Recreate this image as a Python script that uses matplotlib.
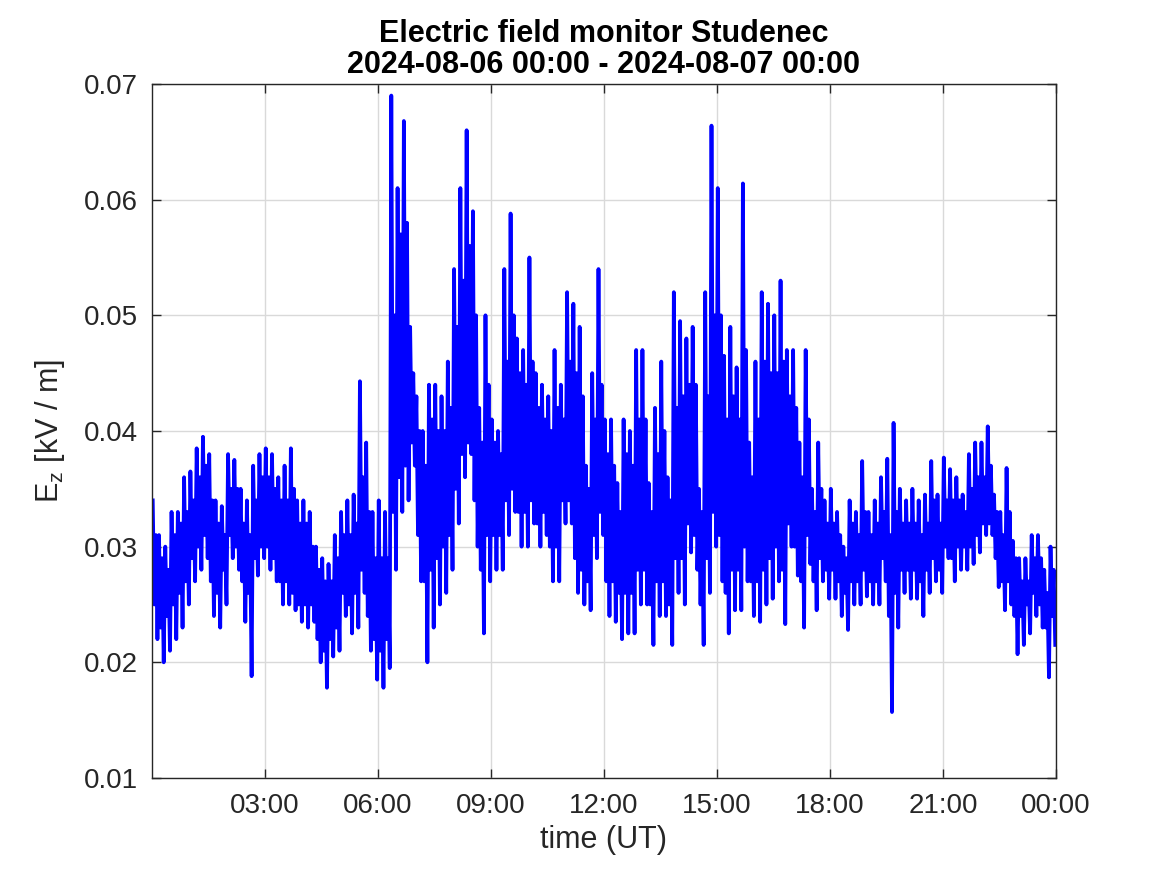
import numpy as np
import matplotlib
matplotlib.use("Agg")
import matplotlib.pyplot as plt

plt.rcParams["font.family"] = ["Liberation Sans", "DejaVu Sans"]
plt.rcParams["mathtext.fontset"] = "custom"
plt.rcParams["mathtext.rm"] = "Liberation Sans"
plt.rcParams["mathtext.it"] = "Liberation Sans"

# E_z [kV/m] read per 10-minute bin, 00:00 -> 24:00 UT
# ez_hi / ez_lo: extreme values; core_hi / core_lo: edges of the dense part
ez_hi = [
    0.034, 0.031, 0.030, 0.033, 0.033, 0.036,        # 00h
    0.0365, 0.0385, 0.0395, 0.038, 0.034, 0.0335,    # 01h
    0.038, 0.0375, 0.035, 0.034, 0.037, 0.038,       # 02h
    0.0385, 0.038, 0.036, 0.037, 0.0385, 0.034,      # 03h
    0.034, 0.033, 0.030, 0.029, 0.0285, 0.031,       # 04h
    0.033, 0.034, 0.0345, 0.0443, 0.039, 0.033,      # 05h
    0.034, 0.033, 0.069, 0.061, 0.0668, 0.049,       # 06h
    0.043, 0.040, 0.044, 0.044, 0.043, 0.046,        # 07h
    0.054, 0.061, 0.066, 0.059, 0.042, 0.050,        # 08h
    0.041, 0.040, 0.054, 0.0588, 0.048, 0.047,       # 09h
    0.055, 0.045, 0.044, 0.043, 0.047, 0.044,        # 10h
    0.052, 0.051, 0.049, 0.037, 0.045, 0.054,        # 11h
    0.041, 0.041, 0.0355, 0.041, 0.040, 0.047,       # 12h
    0.047, 0.0355, 0.042, 0.046, 0.036, 0.052,       # 13h
    0.0495, 0.048, 0.049, 0.035, 0.052, 0.0664,      # 14h
    0.061, 0.0465, 0.049, 0.0455, 0.0614, 0.039,     # 15h
    0.046, 0.052, 0.051, 0.050, 0.053, 0.047,        # 16h
    0.047, 0.039, 0.047, 0.035, 0.039, 0.034,        # 17h
    0.035, 0.033, 0.030, 0.034, 0.033, 0.0374,       # 18h
    0.033, 0.034, 0.036, 0.0376, 0.0407, 0.035,      # 19h
    0.034, 0.035, 0.034, 0.0345, 0.0374, 0.0345,     # 20h
    0.0377, 0.0367, 0.036, 0.0345, 0.038, 0.039,     # 21h
    0.039, 0.0404, 0.0345, 0.033, 0.0368, 0.0305,    # 22h
    0.029, 0.029, 0.031, 0.031, 0.028, 0.030,        # 23h
]
core_hi = [
    0.031, 0.029, 0.028, 0.031, 0.032, 0.033,        # 00h
    0.034, 0.036, 0.037, 0.034, 0.032, 0.031,        # 01h
    0.035, 0.035, 0.032, 0.031, 0.034, 0.036,        # 02h
    0.036, 0.035, 0.034, 0.034, 0.035, 0.032,        # 03h
    0.032, 0.030, 0.028, 0.027, 0.027, 0.029,        # 04h
    0.031, 0.031, 0.032, 0.036, 0.033, 0.029,        # 05h
    0.029, 0.029, 0.050, 0.057, 0.058, 0.045,        # 06h
    0.040, 0.037, 0.041, 0.040, 0.040, 0.042,        # 07h
    0.049, 0.053, 0.056, 0.050, 0.039, 0.044,        # 08h
    0.039, 0.038, 0.046, 0.050, 0.045, 0.044,        # 09h
    0.046, 0.042, 0.041, 0.040, 0.042, 0.041,        # 10h
    0.046, 0.045, 0.043, 0.035, 0.041, 0.044,        # 11h
    0.038, 0.037, 0.033, 0.038, 0.037, 0.041,        # 12h
    0.041, 0.033, 0.038, 0.040, 0.034, 0.042,        # 13h
    0.043, 0.044, 0.044, 0.033, 0.043, 0.050,        # 14h
    0.050, 0.041, 0.043, 0.041, 0.047, 0.036,        # 15h
    0.041, 0.046, 0.045, 0.045, 0.046, 0.043,        # 16h
    0.042, 0.036, 0.041, 0.033, 0.035, 0.032,        # 17h
    0.032, 0.031, 0.029, 0.032, 0.031, 0.033,        # 18h
    0.031, 0.032, 0.033, 0.031, 0.033, 0.032,        # 19h
    0.032, 0.032, 0.031, 0.032, 0.034, 0.032,        # 20h
    0.034, 0.034, 0.034, 0.033, 0.035, 0.036,        # 21h
    0.036, 0.037, 0.033, 0.031, 0.033, 0.029,        # 22h
    0.027, 0.027, 0.029, 0.029, 0.026, 0.028,        # 23h
]
core_lo = [
    0.025, 0.023, 0.024, 0.025, 0.026, 0.027,        # 00h
    0.029, 0.030, 0.031, 0.027, 0.026, 0.028,        # 01h
    0.031, 0.030, 0.027, 0.026, 0.029, 0.030,        # 02h
    0.030, 0.029, 0.027, 0.027, 0.026, 0.025,        # 03h
    0.025, 0.025, 0.022, 0.021, 0.022, 0.023,        # 04h
    0.026, 0.025, 0.026, 0.028, 0.024, 0.022,        # 05h
    0.021, 0.022, 0.033, 0.036, 0.037, 0.039,        # 06h
    0.031, 0.027, 0.028, 0.029, 0.030, 0.031,        # 07h
    0.035, 0.038, 0.039, 0.034, 0.028, 0.031,        # 08h
    0.031, 0.031, 0.034, 0.035, 0.033, 0.033,        # 09h
    0.034, 0.032, 0.033, 0.030, 0.030, 0.034,        # 10h
    0.034, 0.029, 0.028, 0.027, 0.031, 0.033,        # 11h
    0.027, 0.027, 0.026, 0.026, 0.026, 0.028,        # 12h
    0.028, 0.025, 0.027, 0.027, 0.025, 0.029,        # 13h
    0.029, 0.032, 0.031, 0.025, 0.029, 0.033,        # 14h
    0.031, 0.026, 0.028, 0.028, 0.030, 0.027,        # 15h
    0.027, 0.028, 0.029, 0.030, 0.028, 0.032,        # 16h
    0.030, 0.027, 0.031, 0.027, 0.029, 0.028,        # 17h
    0.028, 0.027, 0.026, 0.027, 0.027, 0.028,        # 18h
    0.027, 0.027, 0.029, 0.024, 0.026, 0.028,        # 19h
    0.028, 0.028, 0.027, 0.028, 0.029, 0.028,        # 20h
    0.030, 0.029, 0.030, 0.030, 0.030, 0.031,        # 21h
    0.032, 0.032, 0.029, 0.027, 0.027, 0.024,        # 22h
    0.024, 0.025, 0.026, 0.025, 0.023, 0.024,        # 23h
]
ez_lo = [
    0.022, 0.020, 0.021, 0.022, 0.023, 0.025,        # 00h
    0.027, 0.028, 0.029, 0.024, 0.023, 0.025,        # 01h
    0.029, 0.028, 0.0235, 0.0188, 0.0275, 0.029,     # 02h
    0.028, 0.027, 0.025, 0.025, 0.0245, 0.0235,      # 03h
    0.023, 0.0235, 0.020, 0.0178, 0.0205, 0.021,     # 04h
    0.024, 0.0225, 0.023, 0.026, 0.021, 0.0185,      # 05h
    0.0178, 0.0195, 0.028, 0.033, 0.034, 0.037,      # 06h
    0.027, 0.020, 0.023, 0.025, 0.026, 0.028,        # 07h
    0.032, 0.036, 0.038, 0.030, 0.0225, 0.027,       # 08h
    0.028, 0.028, 0.031, 0.033, 0.030, 0.030,        # 09h
    0.032, 0.030, 0.031, 0.027, 0.027, 0.032,        # 10h
    0.032, 0.026, 0.025, 0.0245, 0.029, 0.031,       # 11h
    0.024, 0.0235, 0.022, 0.0225, 0.0225, 0.025,     # 12h
    0.025, 0.0215, 0.024, 0.024, 0.0215, 0.026,      # 13h
    0.025, 0.0295, 0.028, 0.0215, 0.026, 0.030,      # 14h
    0.027, 0.0225, 0.0245, 0.0245, 0.027, 0.024,     # 15h
    0.0235, 0.025, 0.0255, 0.027, 0.0233, 0.030,     # 16h
    0.0275, 0.023, 0.0285, 0.0245, 0.027, 0.0255,    # 17h
    0.0255, 0.024, 0.0228, 0.025, 0.025, 0.0257,     # 18h
    0.025, 0.025, 0.027, 0.0157, 0.023, 0.026,       # 19h
    0.0255, 0.0255, 0.024, 0.026, 0.027, 0.026,      # 20h
    0.029, 0.027, 0.028, 0.028, 0.0285, 0.0295,      # 21h
    0.031, 0.031, 0.0265, 0.0245, 0.025, 0.0207,     # 22h
    0.0215, 0.0225, 0.024, 0.023, 0.0187, 0.0215,    # 23h
]
tick_hours = [3, 6, 9, 12, 15, 18, 21, 24]
tick_labels = ["03:00", "06:00", "09:00", "12:00", "15:00", "18:00", "21:00", "00:00"]

# each 10-min bin: max, core low, core high, min  -> dense zig-zag like the raw record
bin_start = np.arange(len(ez_hi)) / 6.0
t = (bin_start[:, None] + np.array([1.25, 3.75, 6.25, 8.75])[None, :] / 60).ravel()
ez = np.column_stack([ez_hi, core_lo, core_hi, ez_lo]).ravel()

fig = plt.figure(figsize=(11.67, 8.75), dpi=100)
ax = fig.add_axes([0.1302, 0.1109, 0.7747, 0.7931])
ax.plot(t, ez, color=(0, 0, 1), lw=2.7)

ax.set_xlim(0, 24)
ax.set_ylim(0.01, 0.07)
ax.set_xticks(tick_hours, tick_labels)
ax.set_yticks(np.arange(0.01, 0.0701, 0.01))
ax.set_yticklabels(["%.2f" % v for v in ax.get_yticks()])

dark = (0.15, 0.15, 0.15)
ax.grid(True, color=(0.85, 0.85, 0.85), lw=1.0)
ax.set_axisbelow(True)
for s in ax.spines.values():
    s.set_color(dark)
    s.set_linewidth(1.0)
ax.tick_params(direction="in", length=6.5, width=1.0, top=True, right=True,
               colors=dark, labelsize=20)
ax.tick_params(axis="x", pad=11)
ax.tick_params(axis="y", pad=10)

ax.set_xlabel("time (UT)", fontsize=22, color=dark)
ax.set_ylabel(r"E$_\mathregular{z}$ [kV / m]", fontsize=22, color=dark, labelpad=12)
ax.set_title("Electric field monitor Studenec\n2024-08-06 00:00 - 2024-08-07 00:00",
             fontsize=22, fontweight="bold", linespacing=1.05, pad=8)

fig.savefig("out.png", dpi=100)
